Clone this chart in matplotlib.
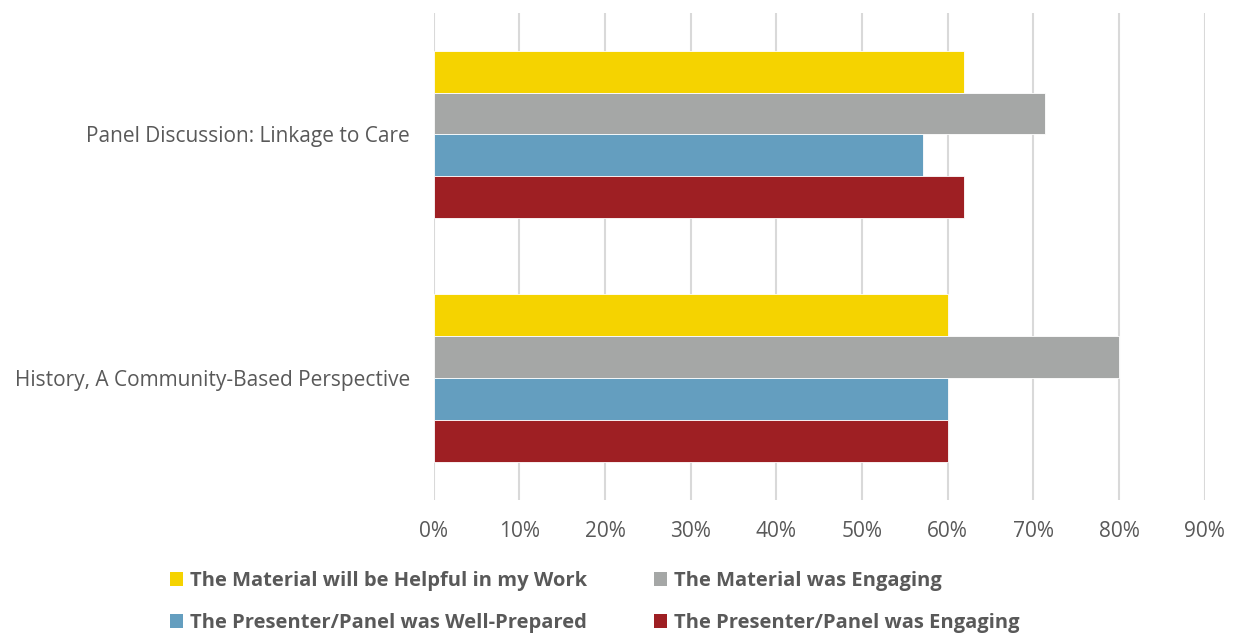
import matplotlib.pyplot as plt
from matplotlib.patches import Patch
from matplotlib.ticker import PercentFormatter
import numpy as np

plt.rcParams['font.family'] = ['Open Sans', 'DejaVu Sans']

# data
categories = ['History, A Community-Based Perspective', 'Panel Discussion: Linkage to Care']
series_names = ['The Material will be Helpful in my Work',
                'The Material was Engaging',
                'The Presenter/Panel was Well-Prepared',
                'The Presenter/Panel was Engaging']
helpful = [0.60, 0.619]
mat_engaging = [0.80, 0.714]
well_prepared = [0.60, 0.571]
pres_engaging = [0.60, 0.619]
colors = ['#F5D300', '#A5A7A6', '#649EBF', '#9E1F23']

text_col = '#595959'

fig = plt.figure(figsize=(12.34, 6.35), dpi=100)
ax = fig.add_axes([0.3515, 0.2126, 0.6248, 0.7677])

y = np.arange(len(categories))
h = 0.1717
all_vals = [helpful, mat_engaging, well_prepared, pres_engaging]
for i, (vals, c) in enumerate(zip(all_vals, colors)):
    offs = (1.5 - i) * h
    ax.barh(y + offs, vals, height=h, color=c, edgecolor='white', linewidth=0.6, zorder=3)

ax.set_xlim(0, 0.9)
ax.set_ylim(-0.5, 1.5)
ax.set_xticks(np.arange(0, 0.91, 0.1))
ax.xaxis.set_major_formatter(PercentFormatter(1.0, decimals=0))
ax.set_yticks(y)
ax.set_yticklabels(categories)
ax.grid(axis='x', color='#D9D9D9', linewidth=1.5, zorder=0)
for s in ax.spines.values():
    s.set_visible(False)
ax.tick_params(axis='both', length=0, labelsize=15, colors=text_col)
ax.tick_params(axis='x', pad=15)
ax.tick_params(axis='y', pad=17)

# legend: two rows below the plot
handles = [Patch(facecolor=c, edgecolor='none') for c in colors]
order = [0, 2, 1, 3]
leg = fig.legend([handles[k] for k in order], [series_names[k] for k in order],
                 ncol=2, loc='lower left', bbox_to_anchor=(0.1378, 0.003),
                 frameon=False, borderpad=0, borderaxespad=0,
                 handlelength=0.65, handleheight=0.65, handletextpad=0.35,
                 columnspacing=3.3, labelspacing=1.1,
                 prop={'size': 14.5, 'weight': 'bold'})
for t in leg.get_texts():
    t.set_color(text_col)

fig.savefig('out.png', dpi=100)
